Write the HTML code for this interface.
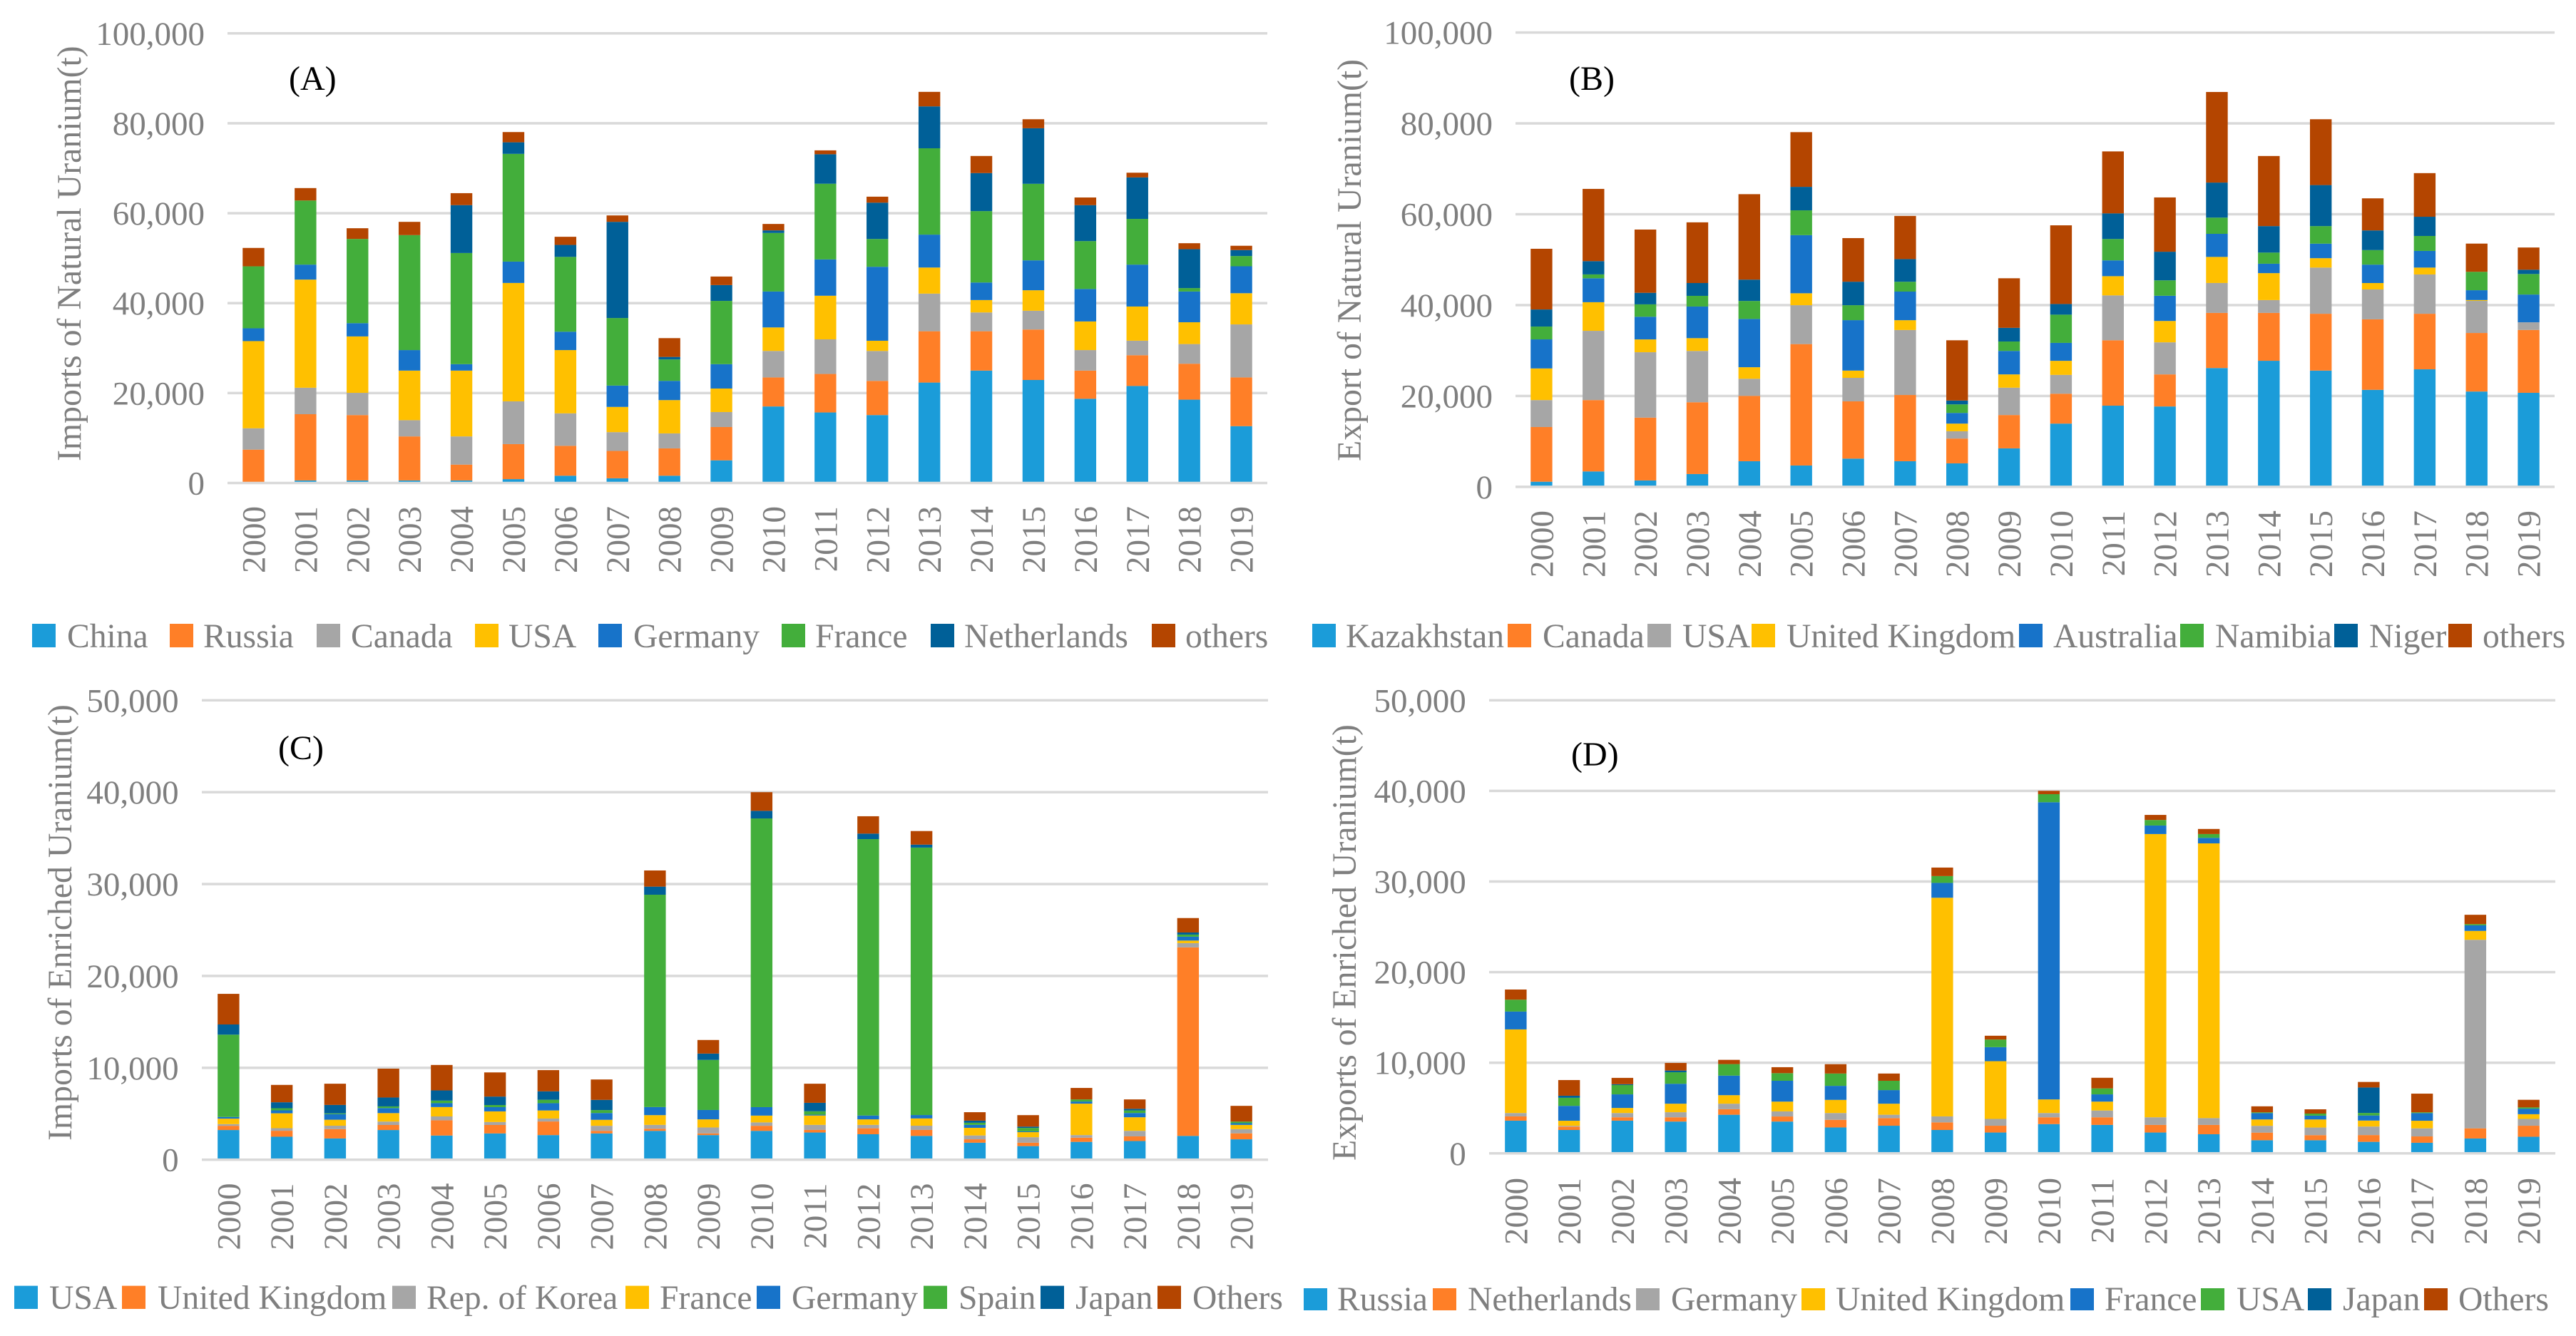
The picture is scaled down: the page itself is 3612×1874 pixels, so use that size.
<!DOCTYPE html>
<html lang="en">
<head>
<meta charset="utf-8">
<title>Uranium trade charts</title>
<style>
  html, body { margin: 0; padding: 0; background: #ffffff; }
  svg { display: block; }
  text { font-family: "Liberation Serif", "Times New Roman", serif; fill: #7f7f7f; }
</style>
</head>
<body>
<svg id="chart-root" xmlns="http://www.w3.org/2000/svg" width="3612" height="1874" viewBox="0 0 3612 1874"></svg>
<script>
/* ---------- shared categories ---------- */
const years = ["2000","2001","2002","2003","2004","2005","2006","2007","2008","2009","2010","2011","2012","2013","2014","2015","2016","2017","2018","2019"];
const naturalTicks = [0, 20000, 40000, 60000, 80000, 100000];
const naturalTickLabels = ["0", "20,000", "40,000", "60,000", "80,000", "100,000"];
const enrichedTicks = [0, 10000, 20000, 30000, 40000, 50000];
const enrichedTickLabels = ["0", "10,000", "20,000", "30,000", "40,000", "50,000"];

/* ---------- panel A: imports of natural uranium (thousand t) ---------- */
const aNames = ["China","Russia","Canada","USA","Germany","France","Netherlands","others"];
const aChina = [0.1,0.57,0.57,0.57,0.57,0.86,1.62,1.05,1.62,5.04,17.02,15.69,15.11,22.34,25.0,22.91,18.73,21.58,18.54,12.64];
const aRussia = [7.32,14.73,14.54,9.79,3.52,7.79,6.65,6.08,6.08,7.41,6.46,8.56,7.6,11.41,8.75,11.22,6.27,6.84,7.99,10.84];
const aCanada = [4.75,5.89,4.94,3.61,6.27,9.51,7.22,4.18,3.33,3.33,5.89,7.7,6.65,8.37,4.18,4.18,4.56,3.23,4.37,11.79];
const aUSA = [19.39,24.05,12.55,11.03,14.64,26.33,14.07,5.61,7.41,5.23,5.23,9.7,2.28,5.8,2.76,4.56,6.37,7.6,4.85,6.94];
const aGermany = [2.85,3.33,2.95,4.56,1.43,4.75,4.09,4.75,4.28,5.42,7.99,8.08,16.45,7.32,3.9,6.65,7.22,9.32,6.84,5.99];
const aFrance = [13.78,14.26,18.73,25.57,24.72,23.96,16.64,15.02,4.75,14.07,13.02,16.83,6.18,19.2,15.88,17.02,10.65,10.17,0.76,2.28];
const aNetherlands = [0,0,0,0,10.65,2.57,2.66,21.39,0.57,3.52,0.57,6.56,8.08,9.32,8.46,12.36,7.99,9.22,8.65,1.33];
const aOthers = [4.09,2.76,2.38,2.95,2.66,2.28,1.81,1.43,4.18,1.9,1.43,0.86,1.33,3.23,3.8,2.0,1.71,1.05,1.33,0.95];

/* ---------- panel B: exports of natural uranium (thousand t) ---------- */
const bNames = ["Kazakhstan","Canada","USA","United Kingdom","Australia","Namibia","Niger","others"];
const bKazakhstan = [1.13,3.39,1.41,2.82,5.64,4.7,6.21,5.64,5.17,8.47,13.92,17.87,17.69,26.15,27.75,25.59,21.35,25.87,20.98,20.7];
const bCanada = [12.04,15.71,13.83,15.8,14.39,26.72,12.61,14.58,5.46,7.34,6.58,14.39,7.06,12.14,10.54,12.51,15.52,12.23,12.89,13.83];
const bUSA = [5.93,15.24,14.39,11.29,3.76,8.56,5.17,14.3,1.6,6.02,4.14,9.88,7.06,6.58,2.82,10.16,6.58,8.65,7.06,1.69];
const bUK = [6.96,6.3,2.82,2.82,2.54,2.63,1.6,2.16,1.69,2.92,3.1,4.23,4.7,5.74,5.93,2.07,1.41,1.51,0.19,0];
const bAustralia = [6.4,5.27,4.99,6.96,10.63,12.79,11.1,6.3,2.35,5.17,3.95,3.48,5.55,5.08,2.07,3.2,4.05,3.67,2.16,6.11];
const bNamibia = [2.82,0.85,2.73,2.35,3.95,5.46,3.29,2.16,1.88,2.07,6.21,4.7,3.39,3.57,2.45,3.86,3.2,3.29,4.05,4.52];
const bNiger = [3.76,2.92,2.54,2.82,4.7,5.17,5.17,4.99,0.85,3.01,2.35,5.64,6.3,7.71,5.83,9.03,4.33,4.23,0,0.94];
const bOthers = [13.36,15.9,13.92,13.36,18.81,12.04,9.6,9.5,13.26,10.91,17.31,13.64,11.95,19.94,15.43,14.49,7.06,9.6,6.21,4.89];

/* ---------- panel C: imports of enriched uranium (thousand t) ---------- */
const cNames = ["USA","United Kingdom","Rep. of Korea","France","Germany","Spain","Japan","Others"];
const cUSA = [3.23,2.5,2.31,3.23,2.63,2.86,2.68,2.86,3.14,2.68,3.14,2.96,2.77,2.59,1.85,1.48,1.94,2.03,2.59,2.22];
const cUK = [0.46,0.65,1.02,0.55,1.66,0.92,1.48,0.28,0.23,0.18,0.55,0.28,0.65,0.65,0.37,0.37,0.46,0.51,20.52,0.65];
const cKorea = [0.18,0.28,0.37,0.37,0.42,0.32,0.32,0.55,0.42,0.65,0.37,0.55,0.37,0.46,0.42,0.6,0.28,0.6,0.46,0.46];
const cFrance = [0.6,1.62,0.65,0.92,1.02,1.16,0.88,0.65,1.06,0.88,0.74,1.02,0.6,0.79,0.83,0.55,3.42,1.48,0.28,0.46];
const cGermany = [0.18,0.32,0.6,0.55,0.42,0.46,0.79,0.74,0.88,1.02,0.92,0.09,0.42,0.37,0.32,0.09,0.23,0.46,0.42,0.18];
const cSpain = [8.96,0.23,0.09,0.18,0.28,0.23,0.37,0.32,23.11,5.45,31.42,0.37,30.08,29.11,0.23,0.37,0.23,0.28,0.23,0.18];
const cJapan = [1.11,0.65,0.92,0.97,1.11,0.92,0.92,1.11,0.88,0.69,0.83,0.92,0.6,0.32,0.23,0.14,0,0.18,0.23,0];
const cOthers = [3.33,1.89,2.31,3.14,2.77,2.63,2.31,2.22,1.76,1.48,2.03,2.08,1.89,1.48,0.92,1.25,1.25,1.02,1.57,1.71];

/* ---------- panel D: exports of enriched uranium (thousand t) ---------- */
const dNames = ["Russia","Netherlands","Germany","United Kingdom","France","USA","Japan","Others"];
const dRussia = [3.61,2.58,3.61,3.51,4.26,3.51,2.86,3.05,2.58,2.3,3.23,3.14,2.3,2.11,1.45,1.45,1.27,1.17,1.64,1.83];
const dNetherlands = [0.47,0.37,0.37,0.47,0.61,0.56,0.84,0.84,0.84,0.75,0.75,0.84,0.84,1.03,0.84,0.56,0.75,0.7,1.12,1.22];
const dGermany = [0.37,0.09,0.47,0.56,0.61,0.56,0.75,0.37,0.66,0.75,0.47,0.75,0.84,0.75,0.75,0.84,0.94,0.89,20.81,0.75];
const dUK = [9.23,0.56,0.56,0.94,0.94,1.08,1.45,1.22,24.13,6.37,1.5,0.98,31.26,30.32,0.7,0.89,0.66,0.84,0.98,0.52];
const dFrance = [1.97,1.64,1.5,2.2,2.16,2.3,1.55,1.5,1.64,1.55,32.8,0.8,0.94,0.61,0.7,0.42,0.56,0.84,0.61,0.61];
const dUSA = [1.31,0.89,1.03,1.27,1.27,0.84,1.36,1.03,0.75,0.84,0.89,0.66,0.61,0.42,0.09,0.23,0.28,0.09,0.14,0.14];
const dJapan = [0,0.23,0.09,0.19,0,0,0,0,0,0,0,0,0,0,0,0,2.81,0,0,0];
const dOthers = [1.12,1.73,0.7,0.84,0.47,0.66,1.03,0.8,0.94,0.42,0.37,1.17,0.56,0.56,0.66,0.47,0.61,2.06,1.03,0.84];

const aValues = [aChina,aRussia,aCanada,aUSA,aGermany,aFrance,aNetherlands,aOthers];
const bValues = [bKazakhstan,bCanada,bUSA,bUK,bAustralia,bNamibia,bNiger,bOthers];
const cValues = [cUSA,cUK,cKorea,cFrance,cGermany,cSpain,cJapan,cOthers];
const dValues = [dRussia,dNetherlands,dGermany,dUK,dFrance,dUSA,dJapan,dOthers];

/* ---------- styling and layout ---------- */
const palette = ["#1b9cd9","#ff7f27","#a6a6a6","#ffc000","#1773c9","#43ae3b","#006098","#b44500"];
const UNIT = 1000;
const SVG_NS = "http://www.w3.org/2000/svg";
const root = document.getElementById("chart-root");

const panels = [
  { id:"a", title:"Imports of Natural Uranium(t)", tag:"(A)", tagX:405, tagY:126, x0:319, x1:1777, yTop:46.8, yZero:677.5, max:100000,
    ticks:naturalTicks, tickLabels:naturalTickLabels, names:aNames, values:aValues, labelRight:287, titleX:113, titleY:647, yearTop:710,
    swatchX:[45,238,444,666,839,1096,1305,1615], textX:[94,285,492,713,888,1143,1352,1662], legendTop:875, legendBase:908 },
  { id:"b", title:"Export of Natural Uranium(t)", tag:"(B)", tagX:2200, tagY:126, x0:2125, x1:3582, yTop:45.6, yZero:682.9, max:100000,
    ticks:naturalTicks, tickLabels:naturalTickLabels, names:bNames, values:bValues, labelRight:2093, titleX:1908, titleY:647, yearTop:716,
    swatchX:[1840,2114,2310,2456,2831,3057,3273,3433], textX:[1887,2163,2359,2505,2879,3106,3322,3481], legendTop:875, legendBase:908 },
  { id:"c", title:"Imports of Enriched Uranium(t)", tag:"(C)", tagX:390, tagY:1065, x0:283, x1:1778, yTop:982.3, yZero:1626.7, max:50000,
    ticks:enrichedTicks, tickLabels:enrichedTickLabels, names:cNames, values:cValues, labelRight:250.6, titleX:100, titleY:1600, yearTop:1659.5,
    swatchX:[20,171,550,877,1061,1295,1459,1623], textX:[69,221,598,925,1110,1344,1508,1672], legendTop:1803.6, legendBase:1836 },
  { id:"d", title:"Exports of Enriched Uranium(t)", tag:"(D)", tagX:2203, tagY:1074, x0:2088, x1:3583, yTop:982.3, yZero:1617.8, max:50000,
    ticks:enrichedTicks, tickLabels:enrichedTickLabels, names:dNames, values:dValues, labelRight:2055.7, titleX:1901, titleY:1628, yearTop:1652,
    swatchX:[1828,2009,2294,2526,2903,3086,3236,3399], textX:[1875,2058,2343,2574,2951,3136,3285,3447], legendTop:1807, legendBase:1838 }
];

function node(tag, props, parent) {
  const el = document.createElementNS(SVG_NS, tag);
  for (const key in props) el.setAttribute(key, props[key]);
  parent.appendChild(el);
  return el;
}
function slug(s) {
  return s.toLowerCase().replace(/[^a-z0-9]+/g, "-").replace(/-$/, "");
}

panels.forEach(function (p) {
  const group = node("g", {}, root);
  
  

  const yScale = function (v) { return p.yZero - (v / p.max) * (p.yZero - p.yTop); };
  const band = (p.x1 - p.x0) / years.length;
  const xCenter = function (i) { return p.x0 + band * (i + 0.5); };
  const barWidth = 30.4;

  /* gridlines and y tick labels */
  p.ticks.forEach(function (t, i) {
    if (t !== 0) {
      const line = node("rect", { x:p.x0, y:yScale(t) - 1.75, width:p.x1 - p.x0, height:3.5, fill:"#d9d9d9" }, group);
      
      
    }
    const label = node("text", { x:p.labelRight, y:yScale(t) + 16, "text-anchor":"end", "font-size":47 }, group);
    
    
    label.textContent = p.tickLabels[i];
  });

  /* stacked bars */
  years.forEach(function (year, i) {
    let running = 0;
    p.values.forEach(function (series, s) {
      const value = series[i] * UNIT;
      if (value <= 0) return;
      const top = yScale(running + value);
      const bottom = yScale(running);
      const bar = node("rect", { x:xCenter(i) - barWidth / 2, y:top, width:barWidth, height:bottom - top, fill:palette[s] }, group);
      
      
      running += value;
    });
  });

  /* category axis line, drawn above the bars */
  const axis = node("rect", { x:p.x0, y:p.yZero - 1.75, width:p.x1 - p.x0, height:3.5, fill:"#d9d9d9" }, group);
  
  

  /* year labels */
  years.forEach(function (year, i) {
    const cx = xCenter(i) + 16;
    const label = node("text", { x:cx, y:p.yearTop, "text-anchor":"end", "font-size":47, transform:"rotate(-90 " + cx + " " + p.yearTop + ")" }, group);
    
    
    label.textContent = year;
  });

  /* y-axis title */
  const title = node("text", { x:p.titleX, y:p.titleY, "text-anchor":"start", "font-size":47.8, transform:"rotate(-90 " + p.titleX + " " + p.titleY + ")" }, group);
  
  
  title.textContent = p.title;

  /* panel tag */
  const tag = node("text", { x:p.tagX, y:p.tagY, "font-size":48, style:"fill:#000000" }, group);
  
  
  tag.textContent = p.tag;

  /* legend */
  p.names.forEach(function (name, s) {
    const entry = node("g", {}, group);
    
    
    const swatch = node("rect", { x:p.swatchX[s], y:p.legendTop, width:33, height:p.legendBase - p.legendTop, fill:palette[s] }, entry);
    
    
    const text = node("text", { x:p.textX[s], y:p.legendBase, "font-size":47.6 }, entry);
    
    
    text.textContent = name;
  });
});
</script>
</body>
</html>
